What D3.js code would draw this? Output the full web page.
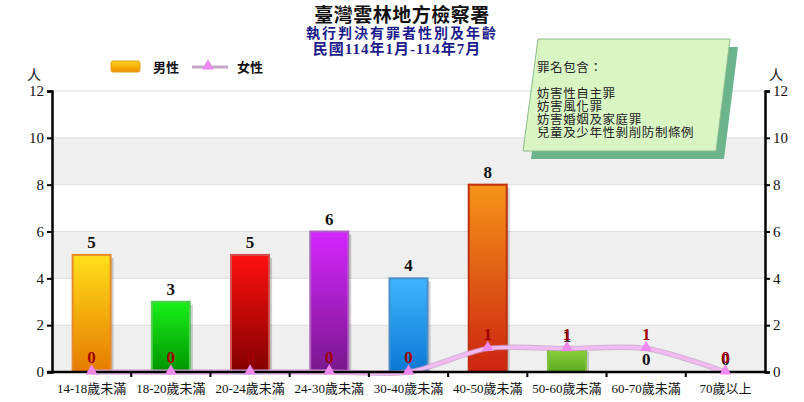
<!DOCTYPE html>
<html>
<head>
<meta charset="utf-8">
<script src="https://cdn.jsdelivr.net/npm/d3@7"></script>
<style>
  body { margin: 0; background: #fff; }
  svg { display: block; }
</style>
</head>
<body>
<svg id="chart" width="804" height="402"></svg>
<script>
// data
const categories = ["14-18歲未滿", "18-20歲未滿", "20-24歲未滿", "24-30歲未滿", "30-40歲未滿",
    "40-50歲未滿", "50-60歲未滿", "60-70歲未滿", "70歲以上"];
const male = [5, 3, 5, 6, 4, 8, 1, 0, 0];
const female = [0, 0, 0, 0, 0, 1, 1, 1, 0];
const yTicks = [0, 2, 4, 6, 8, 10, 12];
const noteLines = ["罪名包含：", "", "妨害性自主罪", "妨害風化罪", "妨害婚姻及家庭罪", "兒童及少年性剝削防制條例"];

// bar gradient colours, one per category
const barTop = ["#ffe019", "#19f019", "#ff1010", "#d526ff", "#40b4ff", "#f59418", "#8ed23a", "#999", "#999"];
const barBottom = ["#e67a00", "#009400", "#820000", "#78188c", "#0a78d2", "#cc2410", "#5aa822", "#666", "#666"];
const barStroke = ["#e88a2a", "#55cc55", "#d05050", "#b060c0", "#4a90c8", "#c03010", "#80c040", "#888", "#888"];

const serif = "'Liberation Serif', 'Noto Sans CJK TC', serif";
const cjk = "'Noto Sans CJK TC', sans-serif";

const W = 804, H = 402;
const margin = { top: 91, right: 39, bottom: 30, left: 52 };
const innerW = W - margin.left - margin.right;
const innerH = H - margin.top - margin.bottom;

const svg = d3.select("#chart");
const defs = svg.append("defs");

categories.forEach((c, i) => {
    const g = defs.append("linearGradient")
        .attr("id", "bar" + i)
        .attr("x1", 0).attr("y1", 0).attr("x2", 0).attr("y2", 1);
    g.append("stop").attr("offset", "0%").attr("stop-color", barTop[i]);
    g.append("stop").attr("offset", "100%").attr("stop-color", barBottom[i]);
});

const legGrad = defs.append("linearGradient").attr("id", "legGrad")
    .attr("x1", 0).attr("y1", 0).attr("x2", 0).attr("y2", 1);
legGrad.append("stop").attr("offset", "0%").attr("stop-color", "#ffd21a");
legGrad.append("stop").attr("offset", "100%").attr("stop-color", "#f09000");

const x = d3.scaleBand().domain(categories).range([0, innerW]).paddingInner(0.52).paddingOuter(0.26);
const xStep = d3.scalePoint().domain(d3.range(categories.length + 1)).range([0, innerW]);
const y = d3.scaleLinear().domain([0, 12]).range([innerH, 0]);

const plot = svg.append("g").attr("transform", `translate(${margin.left},${margin.top})`);

// alternating bands
plot.selectAll("rect.band")
    .data(yTicks.slice(0, -1).filter((d, i) => i % 2 === 0))
    .join("rect")
    .attr("class", "band")
    .attr("x", 0)
    .attr("width", innerW)
    .attr("y", d => y(d + 2))
    .attr("height", d => y(d) - y(d + 2))
    .attr("fill", "#efefef");

// gridlines
plot.selectAll("line.grid")
    .data(yTicks.slice(1))
    .join("line")
    .attr("class", "grid")
    .attr("x1", 0).attr("x2", innerW)
    .attr("y1", d => y(d)).attr("y2", d => y(d))
    .attr("stroke", "#dcdcdc")
    .attr("stroke-width", 1);

// bar shadows
plot.selectAll("rect.shadow")
    .data(male.map((v, i) => ({ v, i })).filter(d => d.v > 0))
    .join("rect")
    .attr("class", "shadow")
    .attr("x", d => x(categories[d.i]) + 3)
    .attr("y", d => y(d.v) + 3)
    .attr("width", x.bandwidth())
    .attr("height", d => y(0) - y(d.v) - 3)
    .attr("fill", "#000")
    .attr("opacity", 0.18);

// bars
plot.selectAll("rect.bar")
    .data(male.map((v, i) => ({ v, i })).filter(d => d.v > 0))
    .join("rect")
    .attr("class", "bar")
    .attr("x", d => x(categories[d.i]))
    .attr("y", d => y(d.v))
    .attr("width", x.bandwidth())
    .attr("height", d => y(0) - y(d.v))
    .attr("fill", d => `url(#bar${d.i})`)
    .attr("stroke", d => barStroke[d.i])
    .attr("stroke-width", 2);

// male value labels
plot.selectAll("text.mlabel")
    .data(male)
    .join("text")
    .attr("class", "mlabel")
    .attr("x", (d, i) => x(categories[i]) + x.bandwidth() / 2)
    .attr("y", d => y(d) - 7)
    .attr("text-anchor", "middle")
    .style("font-family", serif)
    .style("font-weight", "bold")
    .style("font-size", "17px")
    .attr("fill", "#111")
    .text(d => d);

// female line
const cx = i => x(categories[i]) + x.bandwidth() / 2;
const line = d3.line()
    .x((d, i) => cx(i))
    .y(d => y(d))
    .curve(d3.curveCardinal.tension(0.2));

plot.append("path")
    .datum(female)
    .attr("d", line)
    .attr("fill", "none")
    .attr("stroke", "#c898c8")
    .attr("stroke-width", 5.5)
    .attr("opacity", 0.7);
plot.append("path")
    .datum(female)
    .attr("d", line)
    .attr("fill", "none")
    .attr("stroke", "#f2baf2")
    .attr("stroke-width", 3.5);

// x axis
const xAxis = plot.append("g").attr("transform", `translate(0,${innerH})`);
xAxis.append("line")
    .attr("x1", -5).attr("x2", innerW)
    .attr("stroke", "#000").attr("stroke-width", 2.5);
xAxis.selectAll("line.tick")
    .data(d3.range(1, categories.length))
    .join("line")
    .attr("class", "tick")
    .attr("x1", d => xStep(d)).attr("x2", d => xStep(d))
    .attr("y1", 0).attr("y2", 5)
    .attr("stroke", "#000").attr("stroke-width", 2);
xAxis.selectAll("text")
    .data(categories)
    .join("text")
    .attr("x", d => x(d) + x.bandwidth() / 2)
    .attr("y", 21)
    .attr("text-anchor", "middle")
    .style("font-family", serif)
    .style("font-size", "13px")
    .attr("fill", "#111")
    .text(d => d);

// female markers
const tri = d3.symbol().type(d3.symbolTriangle).size(60);
plot.selectAll("path.marker")
    .data(female)
    .join("path")
    .attr("class", "marker")
    .attr("transform", (d, i) => `translate(${cx(i)},${y(d) - 1})`)
    .attr("d", tri)
    .attr("fill", "#ee88ee");

// female labels
plot.selectAll("text.flabel")
    .data(female)
    .join("text")
    .attr("class", "flabel")
    .attr("x", (d, i) => cx(i))
    .attr("y", d => y(d) - 9)
    .attr("text-anchor", "middle")
    .style("font-family", serif)
    .style("font-weight", "bold")
    .style("font-size", "17px")
    .attr("fill", "#a00000")
    .text(d => d);

// y axes
const yLeft = d3.axisLeft(y).tickValues(yTicks).tickSize(5).tickFormat(d3.format("d"));
const yRight = d3.axisRight(y).tickValues(yTicks).tickSize(5).tickFormat(d3.format("d"));

function styleAxis(g) {
    g.select(".domain").attr("stroke", "#000").attr("stroke-width", 2.5);
    g.selectAll(".tick line").attr("stroke", "#000").attr("stroke-width", 2);
    g.selectAll(".tick text")
        .style("font-family", serif)
        .style("font-size", "15px")
        .attr("fill", "#111");
}
plot.append("g").call(yLeft).call(styleAxis);
plot.append("g").attr("transform", `translate(${innerW},0)`).call(yRight).call(styleAxis);

// unit labels
svg.append("text").attr("x", 34).attr("y", 80).attr("text-anchor", "middle")
    .style("font-family", cjk).style("font-size", "14px").attr("fill", "#111").text("人");
svg.append("text").attr("x", 776).attr("y", 80).attr("text-anchor", "middle")
    .style("font-family", cjk).style("font-size", "14px").attr("fill", "#111").text("人");

// titles
svg.append("text").attr("x", 402).attr("y", 22).attr("text-anchor", "middle")
    .style("font-family", cjk).style("font-weight", "bold").style("font-size", "19px")
    .style("letter-spacing", "0.5px")
    .attr("fill", "#111").text("臺灣雲林地方檢察署");
svg.append("text").attr("x", 402).attr("y", 38).attr("text-anchor", "middle")
    .style("font-family", cjk).style("font-weight", "bold").style("font-size", "14px")
    .style("letter-spacing", "2px")
    .attr("fill", "#1c1c8c").text("執行判決有罪者性別及年齡");
svg.append("text").attr("x", 397).attr("y", 54).attr("text-anchor", "middle")
    .style("font-family", serif).style("font-weight", "bold").style("font-size", "15px")
    .style("letter-spacing", "1px")
    .attr("fill", "#1c1c8c").text("民國114年1月-114年7月");

// legend
const legend = svg.append("g");
legend.append("rect").attr("x", 111).attr("y", 61).attr("width", 29).attr("height", 11)
    .attr("rx", 2).attr("fill", "url(#legGrad)").attr("stroke", "#e8a020");
legend.append("text").attr("x", 153).attr("y", 72)
    .style("font-family", cjk).style("font-weight", "bold").style("font-size", "13px")
    .attr("fill", "#111").text("男性");
legend.append("line").attr("x1", 192).attr("x2", 228).attr("y1", 67).attr("y2", 67)
    .attr("stroke", "#c8a8c8").attr("stroke-width", 3);
legend.append("path").attr("transform", "translate(208,66)").attr("d", tri).attr("fill", "#ee88ee");
legend.append("text").attr("x", 237).attr("y", 72)
    .style("font-family", cjk).style("font-weight", "bold").style("font-size", "13px")
    .attr("fill", "#111").text("女性");

// note box: parallelogram with shadow
const note = svg.append("g");
const poly = (dx, dy) => [[538 + dx, 39 + dy], [730 + dx, 39 + dy], [716 + dx, 151 + dy], [523 + dx, 151 + dy]]
    .map(p => p.join(",")).join(" ");
note.append("polygon").attr("points", poly(8, 8)).attr("fill", "#6cb48c");
note.append("polygon").attr("points", poly(0, 0)).attr("fill", "#d9f5c4")
    .attr("stroke", "#8cbc8c").attr("stroke-width", 1);
note.selectAll("text")
    .data(noteLines)
    .join("text")
    .attr("x", 537)
    .attr("y", (d, i) => 72 + i * 13)
    .style("font-family", cjk)
    .style("font-size", "12.5px")
    .style("letter-spacing", "0.6px")
    .attr("fill", "#222")
    .text(d => d);
</script>
</body>
</html>
